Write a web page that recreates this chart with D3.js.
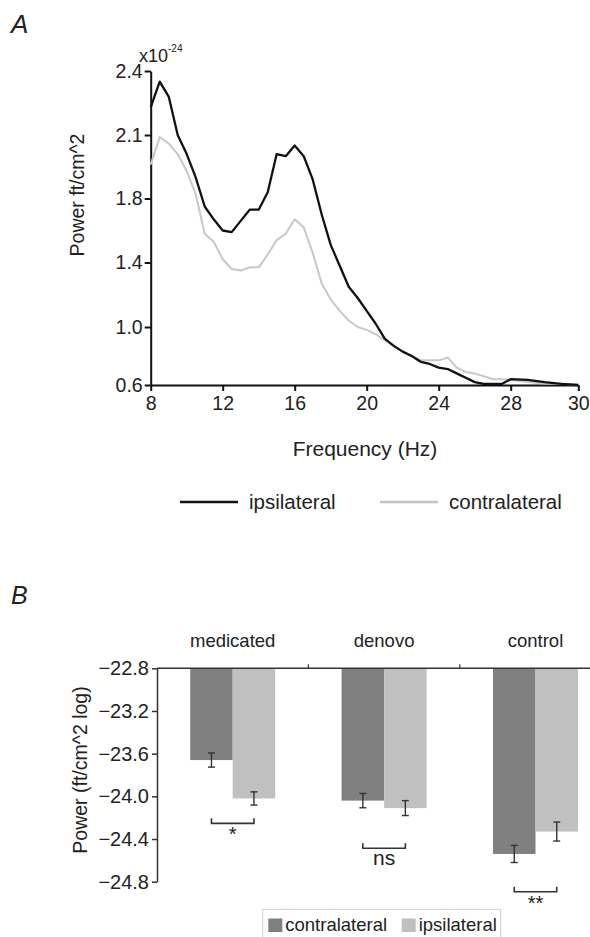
<!DOCTYPE html>
<html>
<head>
<meta charset="utf-8">
<script src="https://cdn.jsdelivr.net/npm/d3@7"></script>
<style>
  body { margin: 0; background: #fff; }
  text { font-family: "Liberation Sans", Arial, Helvetica, sans-serif; fill: #222; }
</style>
</head>
<body>
<script>
// ---- panel A data: power spectrum (x10^-24 ft/cm^2), 0.5 Hz steps ----
const freqs = d3.range(8, 30.01, 0.5);
const ipsilateral = [
  2.23, 2.35, 2.28, 2.10, 2.01, 1.90, 1.75, 1.67, 1.60, 1.59,
  1.66, 1.73, 1.73, 1.83, 2.01, 2.00, 2.05, 2.00, 1.89, 1.70,
  1.51, 1.38, 1.25, 1.18, 1.10, 1.02, 0.92, 0.87, 0.83, 0.80,
  0.76, 0.745, 0.72, 0.71, 0.68, 0.65, 0.62, 0.607, 0.607, 0.607,
  0.64, 0.635, 0.62, 0.608, 0.60
];
const contralateral = [
  1.96, 2.09, 2.06, 2.01, 1.93, 1.82, 1.58, 1.53, 1.42, 1.36,
  1.35, 1.37, 1.37, 1.45, 1.54, 1.58, 1.67, 1.62, 1.46, 1.27,
  1.17, 1.10, 1.04, 1.00, 0.98, 0.95, 0.91, 0.87, 0.83, 0.80,
  0.77, 0.77, 0.77, 0.79, 0.72, 0.69, 0.68, 0.66, 0.64, 0.64,
  0.635, 0.62, 0.61, 0.608, 0.60
];
const xTicksA = [8, 12, 16, 20, 24, 28, 30];
const yTicksA = [0.6, 1.0, 1.4, 1.8, 2.1, 2.4];

// ---- panel B data: log power, mean and error ----
const groups = ["medicated", "denovo", "control"];
const sides = ["contralateral", "ipsilateral"];
const contraMean = [-23.66, -24.04, -24.54];
const contraErr = [0.066, 0.067, 0.08];
const ipsiMean = [-24.02, -24.11, -24.33];
const ipsiErr = [0.062, 0.07, 0.089];
const sigLabels = ["*", "ns", "**"];
const yTicksB = [-22.8, -23.2, -23.6, -24.0, -24.4, -24.8];

const svg = d3.select("body").append("svg")
  .attr("width", 590)
  .attr("height", 937);

// ================= Panel A =================
svg.append("text").attr("x", 11).attr("y", 33)
  .style("font-size", "26px").style("font-style", "italic").text("A");

// the published axes are not evenly scaled, so use polylinear scales
const xA = d3.scaleLinear().domain([8, 28, 30]).range([150.7, 510.7, 578.3]);
const yA = d3.scaleLinear().domain(yTicksA).range([385, 327, 262.5, 198.5, 135, 71]);

const gxA = svg.append("g")
  .attr("transform", "translate(0,385)")
  .call(d3.axisBottom(xA).tickValues(xTicksA).tickSize(6).tickSizeOuter(0).tickPadding(5));
const gyA = svg.append("g")
  .attr("transform", "translate(150.7,0)")
  .call(d3.axisLeft(yA).tickValues(yTicksA).tickFormat(d3.format(".1f")).tickSize(6).tickSizeOuter(0).tickPadding(2));
[gxA, gyA].forEach(g => {
  g.select(".domain").attr("stroke", "#111").attr("stroke-width", 2);
  g.selectAll(".tick line").attr("stroke", "#111").attr("stroke-width", 2);
  g.selectAll(".tick text").style("font-size", "19.5px").attr("fill", "#222")
    .style("font-family", "'Liberation Sans', Arial, sans-serif");
});

// x10^-24 exponent
const expo = svg.append("text").attr("x", 139).attr("y", 62).style("font-size", "18px");
expo.append("tspan").text("x10");
expo.append("tspan").attr("dy", -10).style("font-size", "10px").text("-24");

svg.append("text")
  .attr("transform", "translate(84,195) rotate(-90)")
  .attr("text-anchor", "middle").style("font-size", "19.5px")
  .text("Power ft/cm^2");
svg.append("text").attr("x", 365).attr("y", 456)
  .attr("text-anchor", "middle").style("font-size", "21px")
  .text("Frequency (Hz)");

const line = d3.line().x(d => xA(d[0])).y(d => yA(d[1]));
const seriesA = [
  { name: "contralateral", values: contralateral, color: "#c8c8c8", width: 2 },
  { name: "ipsilateral", values: ipsilateral, color: "#111", width: 2.3 }
];
seriesA.forEach(s => {
  svg.append("path")
    .datum(freqs.map((f, i) => [f, s.values[i]]))
    .attr("fill", "none")
    .attr("stroke", s.color)
    .attr("stroke-width", s.width)
    .attr("stroke-linejoin", "round")
    .attr("d", line);
});

// legend A
const legA = [
  { name: "ipsilateral", color: "#111", x: 180 },
  { name: "contralateral", color: "#c4c4c4", x: 380 }
];
legA.forEach(l => {
  svg.append("line").attr("x1", l.x).attr("x2", l.x + 58)
    .attr("y1", 502).attr("y2", 502)
    .attr("stroke", l.color).attr("stroke-width", 2.5);
  svg.append("text").attr("x", l.x + 69).attr("y", 509)
    .style("font-size", "20.5px").text(l.name);
});

// ================= Panel B =================
svg.append("text").attr("x", 11).attr("y", 604)
  .style("font-size", "25px").style("font-style", "italic").text("B");

const x0 = d3.scaleBand().domain(groups).range([157, 157 + 3 * 151.4]);
const x1 = d3.scaleBand().domain(sides)
  .range([x0.bandwidth() / 2 - 42.5, x0.bandwidth() / 2 + 42.5]);
const yB = d3.scaleLinear().domain([-22.8, -24.8]).range([668.3, 881.7]);
const color = d3.scaleOrdinal().domain(sides).range(["#808080", "#c0c0c0"]);

const bars = [];
groups.forEach((g, i) => {
  bars.push({ group: g, side: "contralateral", mean: contraMean[i], err: contraErr[i] });
  bars.push({ group: g, side: "ipsilateral", mean: ipsiMean[i], err: ipsiErr[i] });
});

svg.selectAll("rect.bar").data(bars).join("rect")
  .attr("class", "bar")
  .attr("x", d => x0(d.group) + x1(d.side))
  .attr("width", x1.bandwidth())
  .attr("y", yB(-22.8))
  .attr("height", d => yB(d.mean) - yB(-22.8))
  .attr("fill", d => color(d.side));

// error bars
const cx = d => x0(d.group) + x1(d.side) + x1.bandwidth() / 2;
const eb = svg.selectAll("g.err").data(bars).join("g").attr("class", "err")
  .attr("stroke", "#333").attr("stroke-width", 1.4);
eb.append("line").attr("x1", cx).attr("x2", cx)
  .attr("y1", d => yB(d.mean + d.err)).attr("y2", d => yB(d.mean - d.err));
eb.append("line").attr("x1", d => cx(d) - 3.5).attr("x2", d => cx(d) + 3.5)
  .attr("y1", d => yB(d.mean + d.err)).attr("y2", d => yB(d.mean + d.err));
eb.append("line").attr("x1", d => cx(d) - 3.5).attr("x2", d => cx(d) + 3.5)
  .attr("y1", d => yB(d.mean - d.err)).attr("y2", d => yB(d.mean - d.err));

// y axis
const gyB = svg.append("g")
  .attr("transform", "translate(157,0)")
  .call(d3.axisLeft(yB).tickValues(yTicksB).tickFormat(d3.format(".1f")).tickSize(5).tickSizeOuter(0).tickPadding(3));
gyB.select(".domain").attr("stroke", "#333").attr("stroke-width", 1.5);
gyB.selectAll(".tick line").attr("stroke", "#333").attr("stroke-width", 1.5);
gyB.selectAll(".tick text").style("font-size", "20px").attr("fill", "#222")
  .style("font-family", "'Liberation Sans', Arial, sans-serif");

// top baseline with small ticks between groups
svg.append("line").attr("x1", 157).attr("x2", 590)
  .attr("y1", yB(-22.8)).attr("y2", yB(-22.8))
  .attr("stroke", "#333").attr("stroke-width", 1.5);
svg.selectAll("line.sep").data(groups.slice(1)).join("line")
  .attr("class", "sep")
  .attr("x1", d => x0(d)).attr("x2", d => x0(d))
  .attr("y1", yB(-22.8)).attr("y2", yB(-22.8) - 4)
  .attr("stroke", "#333").attr("stroke-width", 1.2);

// group labels
svg.selectAll("text.grp").data(groups).join("text")
  .attr("class", "grp")
  .attr("x", d => x0(d) + x0.bandwidth() / 2)
  .attr("y", 647)
  .attr("text-anchor", "middle")
  .style("font-size", "18.5px")
  .text(d => d);

svg.append("text")
  .attr("transform", "translate(87,770) rotate(-90)")
  .attr("text-anchor", "middle").style("font-size", "19.5px")
  .text("Power (ft/cm^2 log)");

// significance brackets (placement below each pair)
const bracketY = [-24.253, -24.487, -24.894];
groups.forEach((g, i) => {
  const xa = x0(g) + x1("contralateral") + x1.bandwidth() / 2;
  const xb = x0(g) + x1("ipsilateral") + x1.bandwidth() / 2;
  const yy = yB(bracketY[i]);
  svg.append("path")
    .attr("d", `M${xa},${yy - 5}V${yy}H${xb}V${yy - 5}`)
    .attr("fill", "none").attr("stroke", "#333").attr("stroke-width", 1.6);
  const isNs = sigLabels[i] === "ns";
  svg.append("text")
    .attr("x", (xa + xb) / 2)
    .attr("y", isNs ? yy + 17 : yy + 18)
    .attr("text-anchor", "middle")
    .style("font-size", isNs ? "21px" : "20px")
    .text(sigLabels[i]);
});

// legend B
const legB = svg.append("g");
legB.append("rect").attr("x", 262.7).attr("y", 909.3).attr("width", 238).attr("height", 40)
  .attr("fill", "#fff").attr("stroke", "#cfcfcf").attr("stroke-width", 1);
const legItems = [
  { side: "contralateral", x: 268.3 },
  { side: "ipsilateral", x: 401.7 }
];
legItems.forEach(l => {
  legB.append("rect").attr("x", l.x).attr("y", 918.5).attr("width", 14).attr("height", 13.5)
    .attr("fill", color(l.side));
  legB.append("text").attr("x", l.x + 17).attr("y", 931)
    .style("font-size", "18.5px").text(l.side);
});
</script>
</body>
</html>
